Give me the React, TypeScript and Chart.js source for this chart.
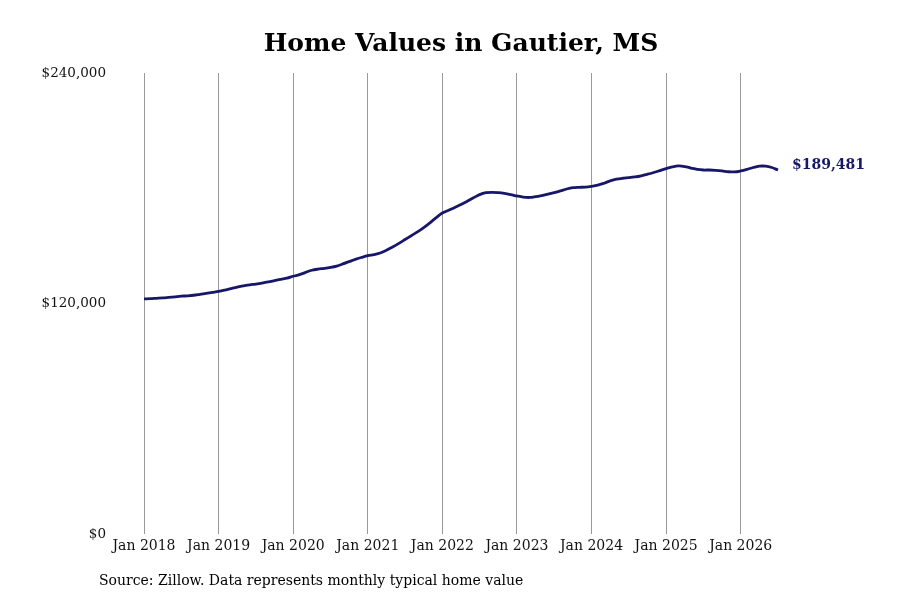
import { useEffect, useRef } from "react";
import { Chart, registerables } from "chart.js";
import type { Plugin } from "chart.js";

Chart.register(...registerables);

const MONTHS = ["Jan", "Feb", "Mar", "Apr", "May", "Jun", "Jul", "Aug", "Sep", "Oct", "Nov", "Dec"];
const YEARS = [2018, 2019, 2020, 2021, 2022, 2023, 2024, 2025, 2026];

// Zillow typical home value, monthly, Jan 2018 – Jul 2026
const values2018 = [122400, 122500, 122700, 122900, 123200, 123500, 123800, 124000, 124300, 124800, 125300, 125800];
const values2019 = [126300, 127000, 127800, 128500, 129200, 129700, 130100, 130600, 131200, 131900, 132600, 133200];
const values2020 = [134200, 135000, 136200, 137300, 137900, 138300, 138800, 139500, 140600, 141800, 143000, 144000];
const values2021 = [144900, 145500, 146300, 147700, 149400, 151300, 153300, 155300, 157300, 159500, 162000, 164700];
const values2022 = [167100, 168500, 170000, 171500, 173200, 175000, 176700, 177700, 177900, 177700, 177300, 176700];
const values2023 = [176000, 175400, 175200, 175600, 176200, 176900, 177700, 178600, 179600, 180300, 180500, 180600];
const values2024 = [181000, 181600, 182600, 183800, 184700, 185200, 185500, 185900, 186500, 187300, 188200, 189200];
const values2025 = [190200, 191100, 191600, 191300, 190500, 189800, 189500, 189500, 189300, 189000, 188600, 188500];
const values2026 = [189000, 189800, 190800, 191500, 191500, 190800, 189481];

const homeValues = [
  ...values2018,
  ...values2019,
  ...values2020,
  ...values2021,
  ...values2022,
  ...values2023,
  ...values2024,
  ...values2025,
  ...values2026,
];

const labels = YEARS.flatMap((y) => MONTHS.map((m) => `${m} ${y}`)).slice(0, homeValues.length);

const yTicks = [0, 120000, 240000];

const TITLE = "Home Values in Gautier, MS";
const SOURCE = "Source: Zillow. Data represents monthly typical home value";
const LINE_COLOR = "#17176a";
const FONT = "'DejaVu Serif', serif";

const fmtMoney = (v: number) => "$" + Math.round(v).toLocaleString("en-US");

// title, source note and last-value label
const textPlugin: Plugin<"line"> = {
  id: "texts",
  afterDraw(chart) {
    const { ctx } = chart;
    ctx.save();
    ctx.fillStyle = "#000";
    ctx.textBaseline = "middle";
    ctx.font = `bold 25px ${FONT}`;
    ctx.textAlign = "center";
    ctx.fillText(TITLE, 461, 44);

    ctx.font = `14px ${FONT}`;
    ctx.textAlign = "left";
    ctx.fillText(SOURCE, 99, 581);

    const meta = chart.getDatasetMeta(0);
    const last = meta.data[meta.data.length - 1];
    if (last) {
      ctx.fillStyle = LINE_COLOR;
      ctx.font = `bold 14px ${FONT}`;
      ctx.fillText(fmtMoney(homeValues[homeValues.length - 1]), last.x + 14, last.y - 5);
    }
    ctx.restore();
  },
};

function HomeValueChart() {
  const canvasRef = useRef<HTMLCanvasElement | null>(null);
  const chartRef = useRef<Chart<"line", number[], string> | null>(null);

  useEffect(() => {
    if (!canvasRef.current) return;
    if (chartRef.current) chartRef.current.destroy();

    chartRef.current = new Chart(canvasRef.current, {
      type: "line",
      data: {
        labels,
        datasets: [
          {
            data: homeValues,
            borderColor: LINE_COLOR,
            borderWidth: 2.8,
            pointRadius: 0,
            tension: 0.35,
            fill: false,
          },
        ],
      },
      options: {
        responsive: false,
        animation: false,
        layout: { padding: { top: 73, right: 122, bottom: 36, left: 0 } },
        plugins: {
          legend: { display: false },
          tooltip: { enabled: false },
        },
        scales: {
          x: {
            type: "category",
            offset: false,
            afterFit: (axis) => {
              axis.height = 30;
            },
            grid: {
              color: "#999999",
              lineWidth: 1,
              drawTicks: false,
            },
            border: { display: false },
            ticks: {
              autoSkip: false,
              maxRotation: 0,
              padding: 4,
              color: "#111",
              font: { family: FONT, size: 14 },
              callback: (_v, i) => (i % 12 === 0 ? labels[i] : null),
            },
          },
          y: {
            min: 0,
            max: 240000,
            afterFit: (axis) => {
              axis.width = 144;
            },
            afterBuildTicks: (axis) => {
              axis.ticks = yTicks.map((v) => ({ value: v }));
            },
            grid: { display: false, drawTicks: false },
            border: { display: false },
            ticks: {
              padding: 38,
              color: "#111",
              font: { family: FONT, size: 13.5 },
              callback: (v) => fmtMoney(Number(v)),
            },
          },
        },
      },
      plugins: [textPlugin],
    });

    return () => {
      if (chartRef.current) {
        chartRef.current.destroy();
        chartRef.current = null;
      }
    };
  }, []);

  return <canvas ref={canvasRef} width={900} height={600} style={{ display: "block" }} />;
}

export default function App() {
  useEffect(() => {
    document.body.style.margin = "0";
    document.body.style.background = "#fff";
  }, []);
  return (
    <div style={{ width: 900, height: 600, background: "#fff" }}>
      <HomeValueChart />
    </div>
  );
}
